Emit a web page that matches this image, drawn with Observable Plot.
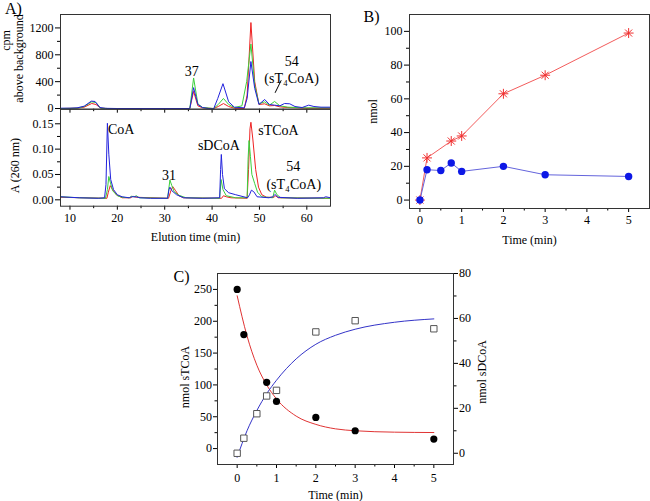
<!DOCTYPE html>
<html><head><meta charset="utf-8">
<script src="https://cdn.jsdelivr.net/npm/d3@7"></script>
<script src="https://cdn.jsdelivr.net/npm/@observablehq/plot@0.6"></script>
<style>
body{margin:0;background:#fff;}
#wrap{position:relative;width:650px;height:501px;overflow:hidden;background:#fff;}
#wrap svg{position:absolute;max-width:none;}
</style></head><body><div id="wrap"></div>
<script>
// ---------- Panel A (top): cpm above background, [elution time, cpm] ----------
const cpmRed = [[8,0],[11.5,5],[13,20],[14.6,75],[15.5,60],[16.5,5],[18,0],[35.3,0],[36.1,255],[37,40],[38,10],[40.3,0],[41.3,30],[42.4,74],[43.5,30],[44.7,5],[46.8,0],[47.4,200],[48.2,1280],[49,400],[49.9,60],[51.1,70],[52.1,40],[53.2,45],[54.3,25],[56,15],[60,5],[65,5]];
const cpmGreen = [[8,0],[11.5,5],[13,30],[14.6,100],[15.5,88],[16.5,5],[18,0],[35.3,0],[36.1,455],[37,70],[38,15],[40.3,0],[41.3,60],[42.4,150],[43.5,60],[44.7,15],[46.3,40],[47.3,400],[48.2,960],[49,350],[49.9,70],[51.1,100],[52.1,50],[53.2,105],[54.3,40],[56,20],[60,10],[65,10]];
const cpmBlue = [[8,5],[10,5],[11.5,10],[13,35],[14.5,110],[15.3,105],[16.3,15],[17.5,3],[20,0],[35.3,0],[36.1,311],[37,60],[38,15],[39.3,0],[40.3,-8],[41.2,150],[42.3,370],[43.5,100],[44.7,20],[46.8,10],[47.4,150],[48.2,700],[49,300],[49.9,60],[51.1,135],[52.1,60],[53.2,50],[54.3,40],[55.3,75],[56.4,70],[57.5,30],[59,15],[60.4,50],[61.5,30],[63,20],[65,20]];
const cpmTicks = [0,400,800,1200];
const cpmMinor = [200,600,1000];
const topNotes = [{label:"37", t:35.7, v:551},{label:"54", t:56.8, v:700},{label:"(sT\u2084CoA)", t:56.8, v:454}];
const topLeader = [{t1:54.6, v1:421, t2:53.3, v2:234}];

// ---------- Panel A (bottom): A(260 nm), [elution time, absorbance] ----------
const absBlue = [[8,0.006],[12,0.004],[16,0.003],[17.3,0.004],[17.6,0.03],[17.9,0.151],[18.2,0.09],[18.6,0.04],[19.2,0.02],[20,0.01],[21,0.006],[22.5,0.004],[23,0.006],[24,0.006],[24.8,0.004],[27,0.003],[30.6,0.003],[30.9,0.02],[31.1,0.025],[31.5,0.018],[32.5,0.01],[34,0.004],[38,0.003],[41.6,0.004],[41.8,0.06],[41.95,0.0895],[42.2,0.05],[42.6,0.022],[43.5,0.014],[45,0.01],[47.5,0.004],[47.9,0.01],[48.3,0.019],[48.8,0.016],[49.5,0.006],[52,0.004],[52.8,0.006],[53.3,0.0105],[53.9,0.005],[58,0.003],[63.5,0.004],[64,0.006],[65,0.004]];
const absGreen = [[8,0.006],[12,0.004],[17.5,0.003],[17.9,0.02],[18.2,0.046],[18.5,0.035],[19,0.018],[20,0.008],[21,0.005],[22.5,0.004],[23,0.007],[23.6,0.006],[24,0.008],[24.6,0.004],[30.6,0.003],[31.1,0.039],[31.5,0.028],[32,0.016],[33,0.009],[34.5,0.004],[41.6,0.003],[41.9,0.04],[42.3,0.02],[43,0.008],[45,0.004],[47.4,0.004],[47.6,0.08],[47.8,0.117],[48.1,0.085],[48.4,0.05],[49,0.032],[49.6,0.015],[50.5,0.006],[52.8,0.004],[53.2,0.019],[53.7,0.01],[54.5,0.004],[65,0.003]];
const absRed = [[8,0.005],[17.8,0.003],[18.1,0.015],[18.5,0.028],[19,0.02],[19.8,0.01],[21,0.004],[22.8,0.004],[23.3,0.007],[24,0.005],[30.8,0.003],[31.3,0.018],[31.7,0.026],[32.3,0.018],[33,0.008],[34,0.004],[42,0.003],[42.4,0.008],[43,0.006],[44,0.004],[47.4,0.003],[47.7,0.06],[48,0.14],[48.2,0.153],[48.6,0.12],[49.2,0.06],[49.8,0.025],[50.5,0.01],[51.5,0.005],[53.1,0.005],[53.4,0.008],[54,0.004],[65,0.003]];
const absTicks = [0,0.05,0.10,0.15];
const absMinor = [0.025,0.075,0.125];
const elutionTicks = [10,20,30,40,50,60];
const elutionMinor = [15,25,35,45,55];
const bottomNotesMid = [{label:"31", t:30.93, v:0.048},{label:"sDCoA", t:41.44, v:0.107},{label:"54", t:57.15, v:0.0657},{label:"(sT\u2084CoA)", t:57.25, v:0.0302}];
const bottomNotesStart = [{label:"CoA", t:18.03, v:0.1387},{label:"sTCoA", t:49.75, v:0.1368}];

// ---------- Panel B: nmol vs time ----------
const timeBRed = [0,0.17,0.75,1,2,3,5];
const nmolRed = [0,25,35,38,63,74,99];
const timeBBlue = [0,0.17,0.5,0.75,1,2,3,5];
const nmolBlue = [0,18,17.5,22,17,20,15,14];
const timeTicksB = [0,1,2,3,4,5];
const timeMinorB = [0.5,1.5,2.5,3.5,4.5];
const nmolTicks = [0,20,40,60,80,100];
const nmolMinor = [10,30,50,70,90];

// ---------- Panel C: sTCoA (left) and sDCoA (right) ----------
const timeC = [0,0.17,0.75,1,2,3,5];
const sTCoA = [250,179,104,74,49,28,15];
const timeSq = [0,0.17,0.5,0.75,1,2,3,5];
const sDCoA = [0,6.7,17.6,25.5,28,54,59,55.4];
const fitTime = [0,0.25,0.5,0.75,1,1.5,2,2.5,3,4,5];
const fitSTCoA = [240,177,131,100,78,51,38,31,28,25.8,25.2];
const fitSDCoA = [-1.8,10,19,26.5,32.5,42,48.5,52.5,55.2,58.3,59.8];
const timeTicksC = [0,1,2,3,4,5];
const timeMinorC = [0.5,1.5,2.5,3.5,4.5];
const leftTicksC = [0,50,100,150,200,250];
const leftMinorC = [25,75,125,175,225];
const rightTicksC = [0,20,40,60,80];
const rightMinorC = [10,30,50,70];

// ---------- rendering ----------
const RED = "#ee2222", GREEN = "#3ccf3c", BLUE = "#2222dd";
const FONT = '"Liberation Serif", "Times New Roman", serif';
const baseStyle = {background: "transparent", fontFamily: FONT, fontSize: "12px", color: "#000", overflow: "visible"};
const wrap = document.getElementById("wrap");
function place(svg, left, top) { svg.style.left = left + "px"; svg.style.top = top + "px"; wrap.appendChild(svg); }
const blank = () => "";
const intFmt = d3.format("d");
const px = d => d[0], py = d => d[1];
// free-standing label helper (centred text placed relative to the frame)
function label(str, anchor, dx, dy, opts = {}) {
  return Plot.text([str], {text: d => d, frameAnchor: anchor, dx, dy, textAnchor: "middle", lineAnchor: "middle", fontSize: 12, ...opts});
}

// Panel A top
place(Plot.plot({
  width: 340, height: 120, marginLeft: 60, marginRight: 10, marginTop: 14, marginBottom: 11.3,
  x: {domain: [8, 65]}, y: {domain: [-10, 1400]},
  style: baseStyle,
  marks: [
    Plot.axisY({ticks: cpmTicks, tickSize: 5, tickPadding: 2, tickFormat: intFmt, label: null}),
    Plot.axisY({ticks: cpmMinor, tickSize: 3, tickFormat: blank, label: null}),
    Plot.axisX({ticks: elutionTicks, tickSize: 4, tickFormat: blank, label: null}),
    Plot.axisX({ticks: elutionMinor, tickSize: 2.5, tickFormat: blank, label: null}),
    Plot.line(cpmRed, {x: px, y: py, stroke: RED, strokeWidth: 1}),
    Plot.line(cpmGreen, {x: px, y: py, stroke: GREEN, strokeWidth: 1}),
    Plot.line(cpmBlue, {x: px, y: py, stroke: BLUE, strokeWidth: 1}),
    Plot.frame({stroke: "#333"}),
    Plot.text(topNotes, {x: "t", y: "v", text: "label", fontSize: 14}),
    Plot.link(topLeader, {x1: "t1", y1: "v1", x2: "t2", y2: "v2", stroke: "#000", strokeWidth: 1}),
    label("cpm", "top-left", -54, 26, {rotate: -90}),
    label("above background", "top-left", -41, 44, {rotate: -90}),
    label("A)", "top-left", -47, -6, {fontSize: 16})
  ]
}), 0, 0);

// Panel A bottom
place(Plot.plot({
  width: 340, height: 150, marginLeft: 60, marginRight: 10, marginTop: 8.7, marginBottom: 44.3,
  x: {domain: [8, 65]}, y: {domain: [-0.0126, 0.1788]},
  style: baseStyle,
  marks: [
    Plot.axisY({ticks: absTicks, tickSize: 5, tickPadding: 2, tickFormat: d3.format(".2f"), label: null}),
    Plot.axisY({ticks: absMinor, tickSize: 3, tickFormat: blank, label: null}),
    Plot.axisX({ticks: elutionTicks, tickSize: 4, tickPadding: 3, tickFormat: intFmt, label: null}),
    Plot.axisX({ticks: elutionMinor, tickSize: 2.5, tickFormat: blank, label: null}),
    Plot.line(absRed, {x: px, y: py, stroke: RED, strokeWidth: 1}),
    Plot.line(absGreen, {x: px, y: py, stroke: GREEN, strokeWidth: 1}),
    Plot.line(absBlue, {x: px, y: py, stroke: BLUE, strokeWidth: 1}),
    Plot.frame({stroke: "#333"}),
    Plot.text(bottomNotesMid, {x: "t", y: "v", text: "label", fontSize: 14}),
    Plot.text(bottomNotesStart, {x: "t", y: "v", text: "label", textAnchor: "start", fontSize: 14}),
    label("A (260 nm)", "left", -45, 8, {rotate: -90}),
    label("Elution time (min)", "bottom", 0, 31)
  ]
}), 0, 100);

// Panel B
place(Plot.plot({
  width: 320, height: 250, marginLeft: 79, marginRight: 1, marginTop: 14, marginBottom: 42,
  x: {domain: [-0.25, 5.5]}, y: {domain: [-5, 110]},
  style: baseStyle,
  marks: [
    Plot.axisY({ticks: nmolTicks, tickSize: 5, tickPadding: 2, tickFormat: intFmt, label: null}),
    Plot.axisY({ticks: nmolMinor, tickSize: 3, tickFormat: blank, label: null}),
    Plot.axisX({ticks: timeTicksB, tickSize: 4, tickPadding: 3, tickFormat: intFmt, label: null}),
    Plot.axisX({ticks: timeMinorB, tickSize: 2.5, tickFormat: blank, label: null}),
    Plot.frame({stroke: "#333"}),
    Plot.line(timeBRed, {x: d => d, y: (d, i) => nmolRed[i], stroke: "#f04848", strokeWidth: 0.9}),
    Plot.line(timeBBlue, {x: d => d, y: (d, i) => nmolBlue[i], stroke: "#6464dc", strokeWidth: 1}),
    Plot.dot(timeBRed, {x: d => d, y: (d, i) => nmolRed[i], symbol: "plus", stroke: "#f03030", r: 3.3, strokeWidth: 1}),
    Plot.dot(timeBRed, {x: d => d, y: (d, i) => nmolRed[i], symbol: "times", stroke: "#f03030", r: 3.3, strokeWidth: 1}),
    Plot.dot(timeBBlue, {x: d => d, y: (d, i) => nmolBlue[i], fill: "#0d18e6", r: 3.7}),
    label("nmol", "left", -36, 0, {rotate: -90}),
    label("Time (min)", "bottom", 0, 32),
    label("B)", "top-left", -38, 2.5, {fontSize: 16})
  ]
}), 330, 0);

// Panel C (dual axis: right values mapped into left scale)
const L0 = -25, L1 = 275, R0 = -5, R1 = 80;
const toLeft = r => L0 + (r - R0) / (R1 - R0) * (L1 - L0);
const fromLeft = l => R0 + (l - L0) / (L1 - L0) * (R1 - R0);
place(Plot.plot({
  width: 370, height: 251, marginLeft: 87, marginRight: 47, marginTop: 23, marginBottom: 37,
  x: {domain: [-0.5, 5.5]}, y: {domain: [L0, L1]},
  style: baseStyle,
  marks: [
    Plot.axisY({ticks: leftTicksC, tickSize: 4, tickPadding: 1.5, tickFormat: intFmt, label: null}),
    Plot.axisY({ticks: leftMinorC, tickSize: 2.5, tickFormat: blank, label: null}),
    Plot.axisY({anchor: "right", ticks: rightTicksC.map(toLeft), tickSize: 4, tickPadding: 1.5, tickFormat: d => String(Math.round(fromLeft(d))), label: null}),
    Plot.axisY({anchor: "right", ticks: rightMinorC.map(toLeft), tickSize: 2.5, tickFormat: blank, label: null}),
    Plot.axisX({ticks: timeTicksC, tickSize: 4, tickPadding: 4.5, tickFormat: intFmt, label: null}),
    Plot.axisX({ticks: timeMinorC, tickSize: 2.5, tickFormat: blank, label: null}),
    Plot.frame({stroke: "#333"}),
    Plot.line(fitTime, {x: d => d, y: (d, i) => fitSTCoA[i], stroke: "#e03434", strokeWidth: 1, curve: "monotone-x"}),
    Plot.line(fitTime, {x: d => d, y: (d, i) => toLeft(fitSDCoA[i]), stroke: "#3434c8", strokeWidth: 1, curve: "monotone-x"}),
    Plot.dot(timeSq, {x: d => d, y: (d, i) => toLeft(sDCoA[i]), symbol: "square", stroke: "#555", fill: "white", r: 3.6, strokeWidth: 1}),
    Plot.dot(timeC, {x: d => d, y: (d, i) => sTCoA[i], fill: "#000", r: 3.6}),
    label("nmol sTCoA", "left", -32, 8, {rotate: -90}),
    label("nmol sDCoA", "right", 29, 3, {rotate: -90}),
    label("Time (min)", "bottom", 0, 31),
    label("C)", "top-left", -36, 3, {fontSize: 16})
  ]
}), 130, 250);
</script></body></html>
